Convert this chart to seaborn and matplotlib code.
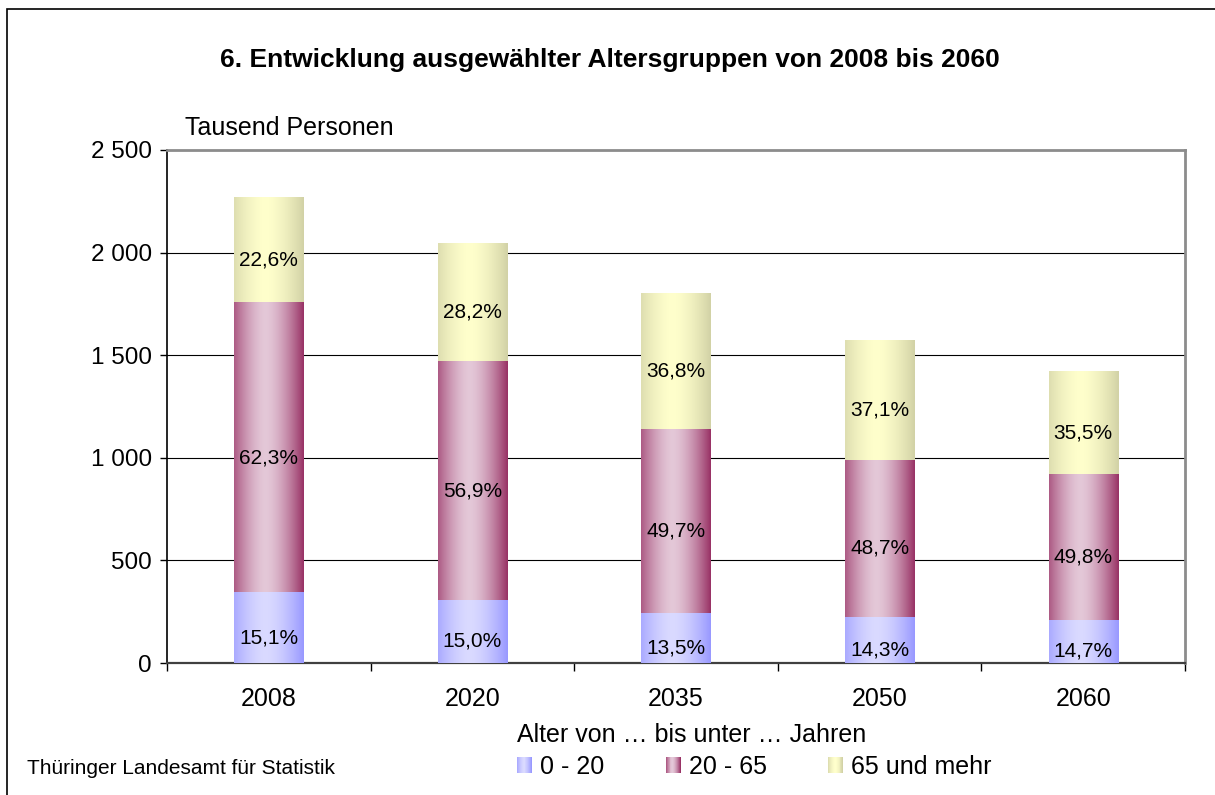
import numpy as np
import pandas as pd
import matplotlib
matplotlib.use("Agg")
import matplotlib.pyplot as plt
from matplotlib.patches import Rectangle, Patch
from matplotlib.legend_handler import HandlerBase
from matplotlib.ticker import FuncFormatter, FixedLocator
import seaborn as sns

# ── data (Tausend Personen) ──────────────────────────────────────────────────
years      = ["2008", "2020", "2035", "2050", "2060"]
age_0_20   = [342, 306, 243, 224, 209]
age_20_65  = [1413, 1162, 894, 764, 709]
age_65     = [513, 576, 662, 582, 505]
pct_0_20   = ["15,1%", "15,0%", "13,5%", "14,3%", "14,7%"]
pct_20_65  = ["62,3%", "56,9%", "49,7%", "48,7%", "49,8%"]
pct_65     = ["22,6%", "28,2%", "36,8%", "37,1%", "35,5%"]
groups     = ["0 - 20", "20 - 65", "65 und mehr"]

# ── style ────────────────────────────────────────────────────────────────────
# (edge colour, centre colour) for the horizontal gradient
GRAD = {
    "0 - 20"      : ("#9999FF", "#DADAFF"),
    "20 - 65"     : ("#993366", "#E4C8D8"),
    "65 und mehr" : ("#D2D2A6", "#FFFFCC"),
}
TXT = 18

sns.set_style("white")
plt.rcParams.update({
    "font.family" : ["Liberation Sans", "DejaVu Sans"],
    "text.color"  : "black",
    "xtick.color" : "black",
    "ytick.color" : "black",
})


def gradient_rgb(dark, light, n=64):
    d = np.array(matplotlib.colors.to_rgb(dark))
    l = np.array(matplotlib.colors.to_rgb(light))
    x = np.linspace(0, 1, n)
    t = np.clip(np.abs(x - 0.45) / 0.55, 0, 1) ** 1.6
    return l[None, :] + (d - l)[None, :] * t[:, None]


class GradientHandler(HandlerBase):
    def __init__(self, dark, light):
        super().__init__()
        self.cols = gradient_rgb(dark, light, 16)

    def create_artists(self, legend, orig_handle, xdescent, ydescent,
                       width, height, fontsize, trans):
        n = len(self.cols)
        w = width / n
        return [Rectangle((-xdescent + i * w, -ydescent), w * 1.05, height,
                          facecolor=c, edgecolor="none", transform=trans)
                for i, c in enumerate(self.cols)]


df = pd.DataFrame({"Jahr": years, "a": age_0_20, "b": age_20_65, "c": age_65})
df["cum_b"] = df["a"] + df["b"]
df["cum_c"] = df["cum_b"] + df["c"]

fig = plt.figure(figsize=(12.15, 7.95), dpi=100)
ax = fig.add_axes([167 / 1215, 132 / 795, 1018 / 1215, 513 / 795])

# overlay cumulative bars, tallest first
layers = [("cum_c", "65 und mehr", 2), ("cum_b", "20 - 65", 3), ("a", "0 - 20", 4)]
for col, grp, z in layers:
    n_before = len(ax.patches)
    sns.barplot(data=df, x="Jahr", y=col, color="white", width=0.34,
                ax=ax, errorbar=None)
    img = gradient_rgb(*GRAD[grp])[None, :, :]
    for p in ax.patches[n_before:]:
        p.set_facecolor("none")
        p.set_edgecolor("none")
        ax.imshow(img, extent=[p.get_x(), p.get_x() + p.get_width(),
                               p.get_y(), p.get_y() + p.get_height()],
                  aspect="auto", zorder=z, interpolation="bilinear")

ax.set_xlim(-0.5, len(years) - 0.5)
ax.set_ylim(0, 2500)

# percentage labels in the middle of each segment
bottoms = [np.zeros(len(years)), np.array(age_0_20),
           np.array(age_0_20) + np.array(age_20_65)]
for vals, labels, bot in zip([age_0_20, age_20_65, age_65],
                             [pct_0_20, pct_20_65, pct_65], bottoms):
    for i, (v, lab) in enumerate(zip(vals, labels)):
        ax.annotate(lab, (i, bot[i] + v / 2), xytext=(0, -7),
                    textcoords="offset points", ha="center", va="center",
                    fontsize=15, zorder=6)

# axes cosmetics
ax.set_xlabel("")
ax.set_ylabel("")
ax.yaxis.set_major_locator(FixedLocator([0, 500, 1000, 1500, 2000, 2500]))
ax.yaxis.set_major_formatter(FuncFormatter(lambda v, _: f"{int(v):,}".replace(",", " ")))
ax.grid(axis="y", color="black", linewidth=0.8)
ax.set_axisbelow(True)
ax.tick_params(axis="y", direction="out", length=5, width=1, labelsize=17.5,
               pad=6, left=True)
ax.tick_params(axis="x", which="major", length=0, labelsize=TXT, pad=17)
ax.xaxis.set_minor_locator(FixedLocator(np.arange(-0.5, len(years), 1.0)))
ax.tick_params(axis="x", which="minor", direction="out", length=6, width=1,
               bottom=True)
for side in ["top", "right"]:
    ax.spines[side].set_color("#8C8C8C")
    ax.spines[side].set_linewidth(2)
ax.spines["left"].set_color("black")
ax.spines["left"].set_linewidth(1.2)
ax.spines["bottom"].set_color("#404040")
ax.spines["bottom"].set_linewidth(1.6)

# texts
fig.text(610 / 1215, 1 - 60 / 795,
         "6. Entwicklung ausgewählter Altersgruppen von 2008 bis 2060",
         ha="center", va="center", fontsize=19, fontweight="bold")
fig.text(185 / 1215, 1 - 128 / 795, "Tausend Personen",
         ha="left", va="center", fontsize=TXT)
fig.text(27 / 1215, 1 - 768 / 795, "Thüringer Landesamt für Statistik",
         ha="left", va="center", fontsize=15)

# legend with gradient squares
handles = [Patch(label=g) for g in groups]
hmap = {h: GradientHandler(*GRAD[g]) for h, g in zip(handles, groups)}
fig.legend(handles=handles, handler_map=hmap, ncol=3, frameon=False,
           title="Alter von … bis unter … Jahren", title_fontsize=TXT,
           fontsize=TXT, loc="upper left", bbox_to_anchor=(517 / 1215, 1 - 723 / 795),
           alignment="left", handlelength=0.6, handleheight=0.6,
           handletextpad=0.32, columnspacing=2.46, borderpad=0, borderaxespad=0,
           labelspacing=0.3)

# outer frame (only left/top edges fall inside the image)
fig.patches.append(Rectangle((7 / 1215, -0.05), 1.2, 1 - 9 / 795 + 0.05,
                             transform=fig.transFigure, fill=False,
                             edgecolor="black", linewidth=1.2))

fig.savefig("out.png", dpi=100, facecolor="white")
